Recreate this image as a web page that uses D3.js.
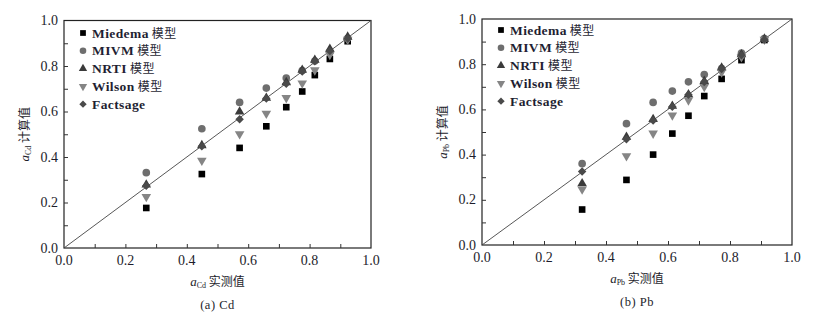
<!DOCTYPE html>
<html>
<head>
<meta charset="utf-8">
<script src="https://cdn.jsdelivr.net/npm/d3@7"></script>
<style>
  html, body { margin: 0; padding: 0; background: #fff; }
  svg { display: block; }
  .tick-lbl { font-family: "Liberation Serif", "Times New Roman", "DejaVu Serif", serif; font-size: 14px; fill: #1d1d2b; }
  .leg { font-family: "Liberation Serif", "Times New Roman", serif; font-size: 13.5px; font-weight: bold; fill: #1f1f33; letter-spacing: 0.4px; }
  .leg .cjk { font-family: "Noto Sans CJK SC", sans-serif; font-weight: normal; font-size: 12px; }
  .ttl { font-family: "Noto Sans CJK SC", sans-serif; font-size: 12px; fill: #1d1d2b; }
  .ttl .it { font-family: "Liberation Serif", "Times New Roman", serif; font-style: italic; font-size: 13px; }
  .ttl .sub { font-family: "Liberation Serif", "Times New Roman", serif; font-size: 8px; }
  .cap { font-family: "Liberation Serif", "Times New Roman", serif; font-size: 12.5px; fill: #1d1d2b; letter-spacing: 0.5px; }
</style>
</head>
<body>
<svg id="chart" width="816" height="318"></svg>
<script>
// ---- data ----
var SERIES = ["Miedema", "MIVM", "NRTI", "Wilson", "Factsage"];
var LEGEND_CJK = [" 模型", " 模型", " 模型", " 模型", ""];
var TICKS = [0.0, 0.2, 0.4, 0.6, 0.8, 1.0];

var cdMeasured = [0.268, 0.449, 0.572, 0.659, 0.724, 0.776, 0.817, 0.866, 0.924];
var cdMiedema  = [0.176, 0.325, 0.440, 0.535, 0.619, 0.688, 0.760, 0.831, 0.909];
var cdMIVM     = [0.331, 0.524, 0.640, 0.703, 0.747, 0.780, 0.822, 0.862, 0.922];
var cdNRTI     = [0.278, 0.451, 0.599, 0.659, 0.728, 0.782, 0.826, 0.875, 0.928];
var cdWilson   = [0.225, 0.385, 0.501, 0.591, 0.660, 0.724, 0.782, 0.850, 0.916];
var cdFactsage = [0.274, 0.447, 0.566, 0.657, 0.722, 0.776, 0.821, 0.866, 0.921];

var pbMeasured = [0.323, 0.466, 0.552, 0.614, 0.666, 0.717, 0.773, 0.837, 0.911];
var pbMiedema  = [0.157, 0.288, 0.400, 0.493, 0.572, 0.659, 0.735, 0.818, 0.907];
var pbMIVM     = [0.360, 0.537, 0.631, 0.681, 0.722, 0.754, 0.781, 0.849, 0.913];
var pbNRTI     = [0.272, 0.478, 0.556, 0.615, 0.666, 0.725, 0.784, 0.843, 0.912];
var pbWilson   = [0.247, 0.394, 0.494, 0.574, 0.641, 0.700, 0.765, 0.832, 0.909];
var pbFactsage = [0.325, 0.468, 0.551, 0.612, 0.665, 0.721, 0.779, 0.840, 0.909];

// marker style per series (diamond = square turned 45deg)
var STYLE = {
  Miedema:  { sym: d3.symbolSquare,   size: 44, fill: "#000",    rot: 0 },
  MIVM:     { sym: d3.symbolCircle,   size: 46, fill: "#6e6e6e", rot: 0 },
  NRTI:     { sym: d3.symbolTriangle, size: 40, fill: "#3a3a3a", rot: 0 },
  Wilson:   { sym: d3.symbolTriangle, size: 40, fill: "#858585", rot: 180 },
  Factsage: { sym: d3.symbolSquare,   size: 36, fill: "#4a4a4a", rot: 45 }
};

var svg = d3.select("#chart");

function panel(o) {
  var x = d3.scaleLinear().domain([0, 1]).range([o.x0, o.x1]);
  var y = d3.scaleLinear().domain([0, 1]).range([o.y1, o.y0]);
  var g = svg.append("g");

  // frame
  g.append("rect").attr("x", o.x0).attr("y", o.y0)
    .attr("width", o.x1 - o.x0).attr("height", o.y1 - o.y0)
    .attr("fill", "none").attr("stroke", "#222").attr("stroke-width", 1.2);

  // inside ticks every 0.1
  var minor = d3.range(1, 10).map(function (d) { return d / 10; });
  g.append("g").attr("transform", "translate(0," + o.y1 + ")")
    .call(d3.axisTop(x).tickValues(minor).tickSize(4).tickFormat(""))
    .call(function (a) { a.select(".domain").remove(); a.selectAll("line").attr("stroke", "#333"); });
  g.append("g").attr("transform", "translate(" + o.x0 + ",0)")
    .call(d3.axisRight(y).tickValues(minor).tickSize(4).tickFormat(""))
    .call(function (a) { a.select(".domain").remove(); a.selectAll("line").attr("stroke", "#333"); });

  // tick labels
  g.selectAll(".xl").data(TICKS).enter().append("text")
    .attr("class", "tick-lbl").attr("x", function (d) { return x(d); }).attr("y", o.y1 + 17)
    .attr("text-anchor", "middle").text(function (d) { return d.toFixed(1); });
  g.selectAll(".yl").data(TICKS).enter().append("text")
    .attr("class", "tick-lbl").attr("x", o.x0 - 6).attr("y", function (d) { return y(d) + 4.5; })
    .attr("text-anchor", "end").text(function (d) { return d.toFixed(1); });

  // 1:1 line
  g.append("line").attr("x1", x(0)).attr("y1", y(0)).attr("x2", x(1)).attr("y2", y(1))
    .attr("stroke", "#444").attr("stroke-width", 0.9);

  // points
  SERIES.forEach(function (s, i) {
    var st = STYLE[s];
    var sym = d3.symbol().type(st.sym).size(st.size);
    g.selectAll(".p" + i).data(o.vals[i]).enter().append("path")
      .attr("d", sym)
      .attr("transform", function (d, j) {
        return "translate(" + x(o.xs[j]) + "," + y(d) + ") rotate(" + st.rot + ")";
      })
      .attr("fill", st.fill);
  });

  // legend
  SERIES.forEach(function (s, i) {
    var st = STYLE[s];
    var ly = o.ly + i * 17.8;
    g.append("path").attr("d", d3.symbol().type(st.sym).size(st.size * 0.75))
      .attr("transform", "translate(" + o.lx + "," + ly + ") rotate(" + st.rot + ")")
      .attr("fill", st.fill);
    var t = g.append("text").attr("class", "leg").attr("x", o.lx + 9).attr("y", ly + 4.5);
    t.append("tspan").text(s);
    if (LEGEND_CJK[i]) t.append("tspan").attr("class", "cjk").text(LEGEND_CJK[i]);
  });

  // axis titles
  var cx = (o.x0 + o.x1) / 2;
  var xt = g.append("text").attr("class", "ttl").attr("x", cx).attr("y", o.y1 + 38).attr("text-anchor", "middle");
  xt.append("tspan").attr("class", "it").text("a");
  xt.append("tspan").attr("class", "sub").attr("dy", 2).text(o.el);
  xt.append("tspan").attr("dy", -2).text(" 实测值");

  var yt = g.append("text").attr("class", "ttl")
    .attr("transform", "translate(" + o.ytx + "," + ((o.y0 + o.y1) / 2) + ") rotate(-90)")
    .attr("text-anchor", "middle");
  yt.append("tspan").attr("class", "it").text("a");
  yt.append("tspan").attr("class", "sub").attr("dy", 2).text(o.el);
  yt.append("tspan").attr("dy", -2).text(" 计算值");

  g.append("text").attr("class", "cap").attr("x", cx).attr("y", o.y1 + 61)
    .attr("text-anchor", "middle").text(o.cap);
}

panel({
  x0: 64, x1: 371, y0: 20.5, y1: 248,
  xs: cdMeasured, vals: [cdMiedema, cdMIVM, cdNRTI, cdWilson, cdFactsage],
  lx: 83, ly: 33, ytx: 29, el: "Cd", cap: "(a) Cd"
});
panel({
  x0: 482, x1: 792, y0: 19, y1: 245,
  xs: pbMeasured, vals: [pbMiedema, pbMIVM, pbNRTI, pbWilson, pbFactsage],
  lx: 501, ly: 30, ytx: 447, el: "Pb", cap: "(b) Pb"
});
</script>
</body>
</html>
